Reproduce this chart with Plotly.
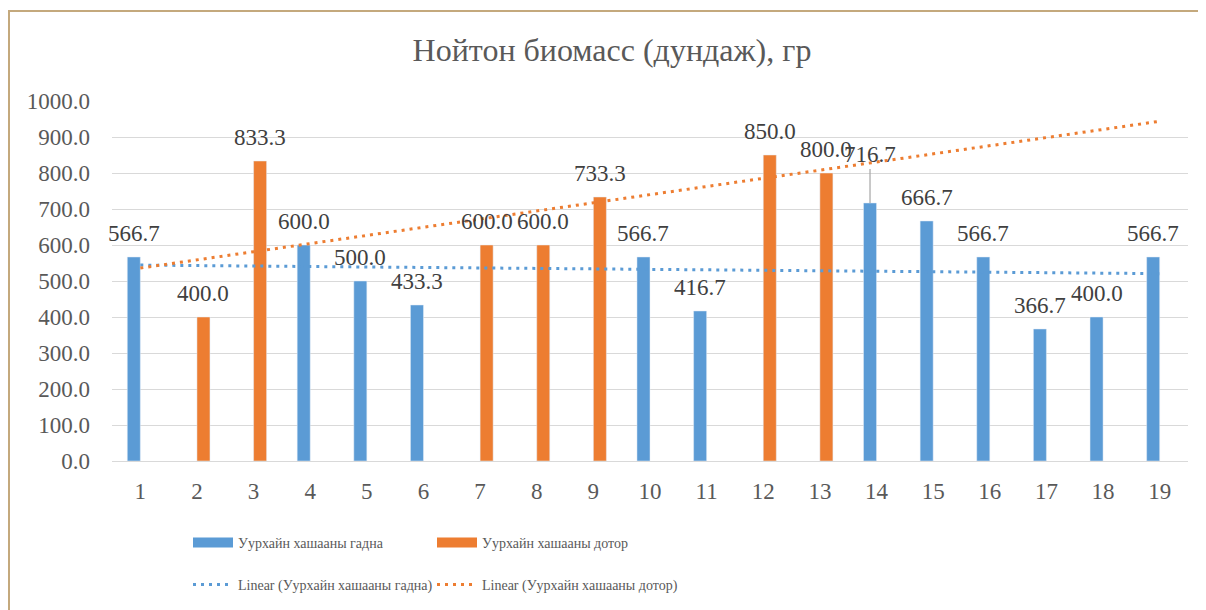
import numpy as np
import plotly.graph_objects as go

categories = [str(i) for i in range(1, 20)]
outside_vals = [566.7, None, None, 600.0, 500.0, 433.3, None, None, None, 566.7,
                416.7, None, None, 716.7, 666.7, 566.7, 366.7, 400.0, 566.7]
inside_vals = [None, 400.0, 833.3, None, None, None, 600.0, 600.0, 733.3, None,
               None, 850.0, 800.0, None, None, None, None, None, None]
y_ticks = [0, 100, 200, 300, 400, 500, 600, 700, 800, 900, 1000]

name_out = "Уурхайн хашааны гадна"
name_in = "Уурхайн хашааны дотор"
BLUE = "#5B9BD5"
ORANGE = "#ED7D31"
SERIF = "Liberation Serif, Times New Roman, serif"

# style: labels that were dragged upward (with a leader line) in the original
LIFTED_LABELS = {("out", "14"): 26}


def trend(vals):
    xs = np.array([i + 1 for i, v in enumerate(vals) if v is not None], dtype=float)
    ys = np.array([v for v in vals if v is not None], dtype=float)
    k, b = np.polyfit(xs, ys, 1)
    return [k * 1 + b, k * 19 + b]


# page is offset by the 8px body margin; work in figure pixel coordinates
OFF = 8
W, H = 1206 - OFF, 610 - OFF
L = 112 - OFF
T = 101 - OFF
R = W - (1188 - OFF)
B = H - (461 - OFF)
pw, ph = W - L - R, H - T - B
BARGAP = 0.54
bar_px = (1 - BARGAP) / 2 * pw / len(categories)


def px(x):  # page x -> paper
    return (x - OFF - L) / pw


def py(y):  # page y -> paper
    return (H - B - (y - OFF)) / ph


fig = go.Figure()
fig.add_bar(x=categories, y=outside_vals, name=name_out, marker_color=BLUE,
            showlegend=False, hoverinfo="skip")
fig.add_bar(x=categories, y=inside_vals, name=name_in, marker_color=ORANGE,
            showlegend=False, hoverinfo="skip")

fig.add_scatter(x=[categories[0], categories[-1]], y=trend(outside_vals), mode="lines",
                line=dict(color=BLUE, width=3, dash="3px,5px"),
                name="Linear (" + name_out + ")", legend="legend3", hoverinfo="skip")
fig.add_scatter(x=[categories[0], categories[-1]], y=trend(inside_vals), mode="lines",
                line=dict(color=ORANGE, width=3, dash="3px,5px"),
                name="Linear (" + name_in + ")", legend="legend4", hoverinfo="skip")

# legend proxies for bars (wide rectangle swatches)
fig.add_scatter(x=[None], y=[None], mode="lines", line=dict(color=BLUE, width=10),
                name=name_out, legend="legend")
fig.add_scatter(x=[None], y=[None], mode="lines", line=dict(color=ORANGE, width=10),
                name=name_in, legend="legend2")

# data labels (x given as category index so the category axis places them)
annotations = []
for key, vals, sgn in (("out", outside_vals, -1), ("in", inside_vals, 1)):
    for idx, (c, v) in enumerate(zip(categories, vals)):
        if v is None:
            continue
        lift = LIFTED_LABELS.get((key, c))
        a = dict(x=idx, y=v, xref="x", yref="y", text=f"{v:.1f}",
                 xshift=sgn * bar_px / 2,
                 font=dict(family=SERIF, size=23, color="#404040"))
        if lift:
            a.update(showarrow=True, arrowhead=0, arrowwidth=1.2, arrowcolor="#A6A6A6",
                     ax=0, ay=-(lift + 22), standoff=0, startstandoff=0)
        else:
            a.update(showarrow=False, yanchor="bottom", yshift=9)
        annotations.append(a)

legend_common = dict(orientation="h", xanchor="left", yanchor="middle",
                     font=dict(family=SERIF, size=14, color="#595959"),
                     bgcolor="rgba(0,0,0,0)", itemwidth=40)

fig.update_layout(
    width=W, height=H,
    margin=dict(l=L, r=R, t=T, b=B, autoexpand=False),
    paper_bgcolor="white", plot_bgcolor="white",
    barmode="group", bargap=BARGAP, bargroupgap=0,
    title=dict(text="Нойтон биомасс (дундаж), гр", x=px(612), xref="paper",
               y=1 - (50 - OFF) / H, yref="container", xanchor="center", yanchor="middle",
               font=dict(family=SERIF, size=32, color="#595959")),
    font=dict(family=SERIF, color="#595959"),
    legend=dict(x=px(188), y=py(543), **legend_common),
    legend2=dict(x=px(432), y=py(543), **legend_common),
    legend3=dict(x=px(188), y=py(585), **legend_common),
    legend4=dict(x=px(432), y=py(585), **legend_common),
    xaxis=dict(type="category", categoryorder="array", categoryarray=categories,
               range=[-0.5, len(categories) - 0.5], autorange=False,
               showgrid=False, showline=True, linecolor="#D9D9D9", linewidth=1,
               ticks="", tickfont=dict(family=SERIF, size=23, color="#595959"),
               ticklabelstandoff=9),
    yaxis=dict(range=[0, 1000], tickvals=y_ticks,
               ticktext=[f"{v:.1f}" for v in y_ticks],
               showgrid=True, gridcolor="#D9D9D9", gridwidth=1,
               zeroline=False, showline=False, ticks="",
               tickfont=dict(family=SERIF, size=23, color="#595959"),
               ticklabelstandoff=21),
    annotations=annotations,
    shapes=[
        dict(type="line", xref="paper", yref="paper", x0=px(8), x1=px(1230),
             y0=py(11), y1=py(11), line=dict(color="#C4A97D", width=2)),
        dict(type="line", xref="paper", yref="paper", x0=px(9), x1=px(9),
             y0=py(11), y1=py(640), line=dict(color="#C4A97D", width=2)),
    ],
)

fig.write_html("out.html")
